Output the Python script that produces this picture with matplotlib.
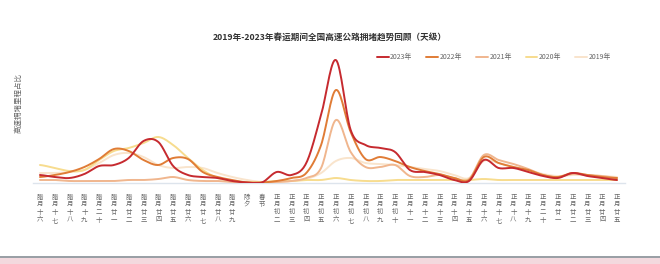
import matplotlib
matplotlib.use("Agg")
import matplotlib.pyplot as plt
from matplotlib.patches import Rectangle
import numpy as np

plt.rcParams["font.family"] = ["Noto Sans CJK SC", "DejaVu Sans"]

# -----------------------------
# data
# -----------------------------
days = ["腊月十六", "腊月十七", "腊月十八", "腊月十九", "腊月二十", "腊月廿一", "腊月廿二",
        "腊月廿三", "腊月廿四", "腊月廿五", "腊月廿六", "腊月廿七", "腊月廿八", "腊月廿九",
        "除夕", "春节", "正月初二", "正月初三", "正月初四", "正月初五", "正月初六", "正月初七",
        "正月初八", "正月初九", "正月初十", "正月十一", "正月十二", "正月十三", "正月十四",
        "正月十五", "正月十六", "正月十七", "正月十八", "正月十九", "正月二十", "正月廿一",
        "正月廿二", "正月廿三", "正月廿四", "正月廿五"]

years = ["2023年", "2022年", "2021年", "2020年", "2019年"]

v2023 = [8, 6, 5, 9, 17, 18, 25, 42, 41, 17, 8, 6, 5, 2, 0.5, 0.5, 11, 8, 20, 68,
         123, 53, 38, 35, 31, 13, 11, 8, 3, 2, 23, 15, 15, 11, 7, 5, 10, 7, 5, 3]
v2022 = [6, 8, 11, 16, 24, 34, 32, 23, 18, 25, 24, 11, 6, 3, 0.5, 0.5, 2, 5, 10, 38,
         93, 51, 24, 26, 22, 16, 12, 9, 5, 3, 26, 20, 16, 13, 8, 6, 10, 8, 6, 5]
v2021 = [3, 3, 2, 2, 2, 2, 3, 3, 4, 6, 3, 2, 2, 1, 0.5, 0.5, 1, 2, 5, 15,
         63, 31, 16, 16, 18, 7, 6, 8, 5, 4, 28, 23, 19, 14, 8, 6, 9, 8, 7, 5]
v2020 = [18, 15, 12, 13, 23, 32, 35, 40, 46, 38, 25, 13, 5, 2, 1, 1, 2, 2, 3, 3,
         5, 3, 2, 2, 3, 3, 3, 3, 3, 3, 4, 3, 3, 3, 3, 3, 3, 3, 3, 3]
v2019 = [10, 10, 11, 13, 20, 28, 30, 26, 18, 15, 16, 15, 10, 6, 3, 1, 1, 2, 4, 10,
         22, 25, 20, 19, 18, 16, 14, 12, 8, 5, 22, 20, 16, 13, 9, 7, 8, 8, 7, 6]

colors = ["#c62a2f", "#e07c36", "#f0b68e", "#f7dc8e", "#f9e4cc"]


def smooth(y, n=16):
    """Catmull-Rom curve through the points (drawing only)."""
    y = np.asarray(y, float)
    p = np.concatenate([[y[0]], y, [y[-1]]])
    xs, ys = [], []
    for i in range(len(y) - 1):
        t = np.linspace(0, 1, n, endpoint=False)
        p0, p1, p2, p3 = p[i], p[i + 1], p[i + 2], p[i + 3]
        yy = 0.5 * ((2 * p1) + (-p0 + p2) * t + (2 * p0 - 5 * p1 + 4 * p2 - p3) * t ** 2
                    + (-p0 + 3 * p1 - 3 * p2 + p3) * t ** 3)
        xs.append(i + t)
        ys.append(yy)
    xs.append([len(y) - 1])
    ys.append([y[-1]])
    return np.concatenate(xs), np.clip(np.concatenate(ys), 0, None)


fig = plt.figure(figsize=(6.6, 2.64), dpi=100)
ax = fig.add_axes([33 / 660, 81 / 264, 592 / 660, 130 / 264])

series = [v2023, v2022, v2021, v2020, v2019]
handles = []
for k in range(len(series) - 1, -1, -1):
    xs, ys = smooth(series[k])
    ln, = ax.plot(xs, ys, color=colors[k], lw=1.4, zorder=10 - k, solid_capstyle="round")
    handles.insert(0, ln)

ax.set_xlim(-0.47, 39.54)
ax.set_ylim(0, 130)
ax.set_xticks(range(len(days)))
ax.set_xticklabels(["\n".join(d) for d in days], fontsize=4.6, color="#666666",
                   linespacing=0.95, va="top")
ax.tick_params(axis="x", length=0, pad=7)
ax.set_yticks([])
for s in ["top", "right", "left"]:
    ax.spines[s].set_visible(False)
ax.spines["bottom"].set_color("#dde4ec")
ax.spines["bottom"].set_linewidth(1.0)

fig.text(0.5, 1 - 37 / 264, "2019年-2023年春运期间全国高速公路拥堵趋势回顾（天级）",
         ha="center", va="center", fontsize=6.2, fontweight="bold", color="#333333")
fig.text(18 / 660, 1 - 103 / 264, "高速拥堵里程占比", rotation=90, ha="center",
         va="center", fontsize=5.4, color="#666666")

fig.legend(handles, years, loc="center left", bbox_to_anchor=(377 / 660, 1 - 57 / 264),
           ncol=5, frameon=False, fontsize=5, handlelength=1.7, handletextpad=0.2,
           columnspacing=2.0, labelcolor="#666666", borderaxespad=0, borderpad=0)

# bottom strip of the screenshot
fig.add_artist(Rectangle((0, 0), 1, 8 / 264, transform=fig.transFigure,
                         facecolor="#f3d9de", edgecolor="none"))
fig.add_artist(Rectangle((0, 6 / 264), 1, 2.5 / 264, transform=fig.transFigure,
                         facecolor="#9aa0a6", edgecolor="none"))

fig.savefig("out.png", dpi=100)
